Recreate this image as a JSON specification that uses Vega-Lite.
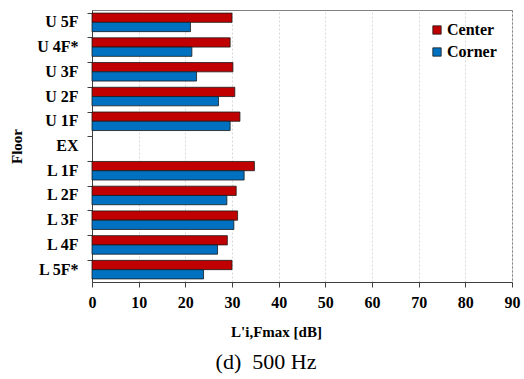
{
  "$schema": "https://vega.github.io/schema/vega-lite/v6.json",
  "width": 420,
  "height": 272,
  "autosize": {"type": "none"},
  "padding": {"left": 92, "top": 10, "right": 12, "bottom": 97},
  "title": {
    "text": "(d)\u00a0\u00a0500 Hz",
    "orient": "bottom",
    "anchor": "middle",
    "dx": -36,
    "offset": 13,
    "font": "Liberation Serif",
    "fontSize": 22,
    "fontWeight": "normal",
    "color": "#000000"
  },
  "config": {
    "font": "Liberation Serif",
    "view": {"stroke": "#808080", "strokeWidth": 1}
  },
  "data": {
    "values": [
      {"Floor": "U 5F", "Series": "Center", "L": 30.0},
      {"Floor": "U 5F", "Series": "Corner", "L": 21.1},
      {"Floor": "U 4F*", "Series": "Center", "L": 29.6},
      {"Floor": "U 4F*", "Series": "Corner", "L": 21.4},
      {"Floor": "U 3F", "Series": "Center", "L": 30.2},
      {"Floor": "U 3F", "Series": "Corner", "L": 22.4},
      {"Floor": "U 2F", "Series": "Center", "L": 30.6},
      {"Floor": "U 2F", "Series": "Corner", "L": 27.1},
      {"Floor": "U 1F", "Series": "Center", "L": 31.7},
      {"Floor": "U 1F", "Series": "Corner", "L": 29.6},
      {"Floor": "L 1F", "Series": "Center", "L": 34.8},
      {"Floor": "L 1F", "Series": "Corner", "L": 32.6},
      {"Floor": "L 2F", "Series": "Center", "L": 30.9},
      {"Floor": "L 2F", "Series": "Corner", "L": 28.9},
      {"Floor": "L 3F", "Series": "Center", "L": 31.2},
      {"Floor": "L 3F", "Series": "Corner", "L": 30.4},
      {"Floor": "L 4F", "Series": "Center", "L": 29.0},
      {"Floor": "L 4F", "Series": "Corner", "L": 26.9},
      {"Floor": "L 5F*", "Series": "Center", "L": 30.0},
      {"Floor": "L 5F*", "Series": "Corner", "L": 23.9}
    ]
  },
  "mark": {"type": "bar", "stroke": "#1a1a1a", "strokeWidth": 0.8},
  "encoding": {
    "y": {
      "field": "Floor",
      "type": "nominal",
      "scale": {
        "domain": ["U 5F", "U 4F*", "U 3F", "U 2F", "U 1F", "EX", "L 1F", "L 2F", "L 3F", "L 4F", "L 5F*"],
        "paddingInner": 0.25,
        "paddingOuter": 0.125
      },
      "axis": {
        "title": "Floor",
        "titleFont": "Liberation Serif",
        "titleFontSize": 15,
        "titleFontWeight": "bold",
        "titleColor": "#000000",
        "titlePadding": 12,
        "labelFont": "Liberation Serif",
        "labelFontSize": 16,
        "labelFontWeight": "bold",
        "labelColor": "#000000",
        "labelPadding": 9,
        "bandPosition": 0,
        "tickSize": 5,
        "tickColor": "#404040",
        "domainColor": "#404040",
        "grid": false
      }
    },
    "yOffset": {
      "field": "Series",
      "type": "nominal",
      "sort": ["Center", "Corner"],
      "scale": {"paddingInner": 0, "paddingOuter": 0}
    },
    "x": {
      "field": "L",
      "type": "quantitative",
      "scale": {"domain": [0, 90], "nice": false},
      "axis": {
        "title": "L'i,Fmax [dB]",
        "titleFont": "Liberation Serif",
        "titleFontSize": 15,
        "titleFontWeight": "bold",
        "titleColor": "#000000",
        "titlePadding": 14,
        "titleX": 184,
        "values": [0, 10, 20, 30, 40, 50, 60, 70, 80, 90],
        "labelFont": "Liberation Serif",
        "labelFontSize": 16,
        "labelFontWeight": "bold",
        "labelColor": "#000000",
        "labelPadding": 7,
        "tickSize": 5,
        "tickColor": "#404040",
        "domainColor": "#404040",
        "grid": true,
        "gridColor": "#d9d9d9",
        "gridDash": [2, 2],
        "labelFlush": false
      }
    },
    "color": {
      "field": "Series",
      "type": "nominal",
      "scale": {"domain": ["Center", "Corner"], "range": ["#C00000", "#0070C0"]},
      "legend": {
        "title": null,
        "orient": "none",
        "legendX": 337,
        "legendY": 12,
        "symbolType": "square",
        "symbolSize": 70,
        "symbolStrokeColor": "#1a1a1a",
        "symbolStrokeWidth": 0.8,
        "labelFont": "Liberation Serif",
        "labelFontSize": 16,
        "labelFontWeight": "bold",
        "labelColor": "#000000",
        "labelOffset": 2,
        "rowPadding": 6
      }
    }
  }
}
